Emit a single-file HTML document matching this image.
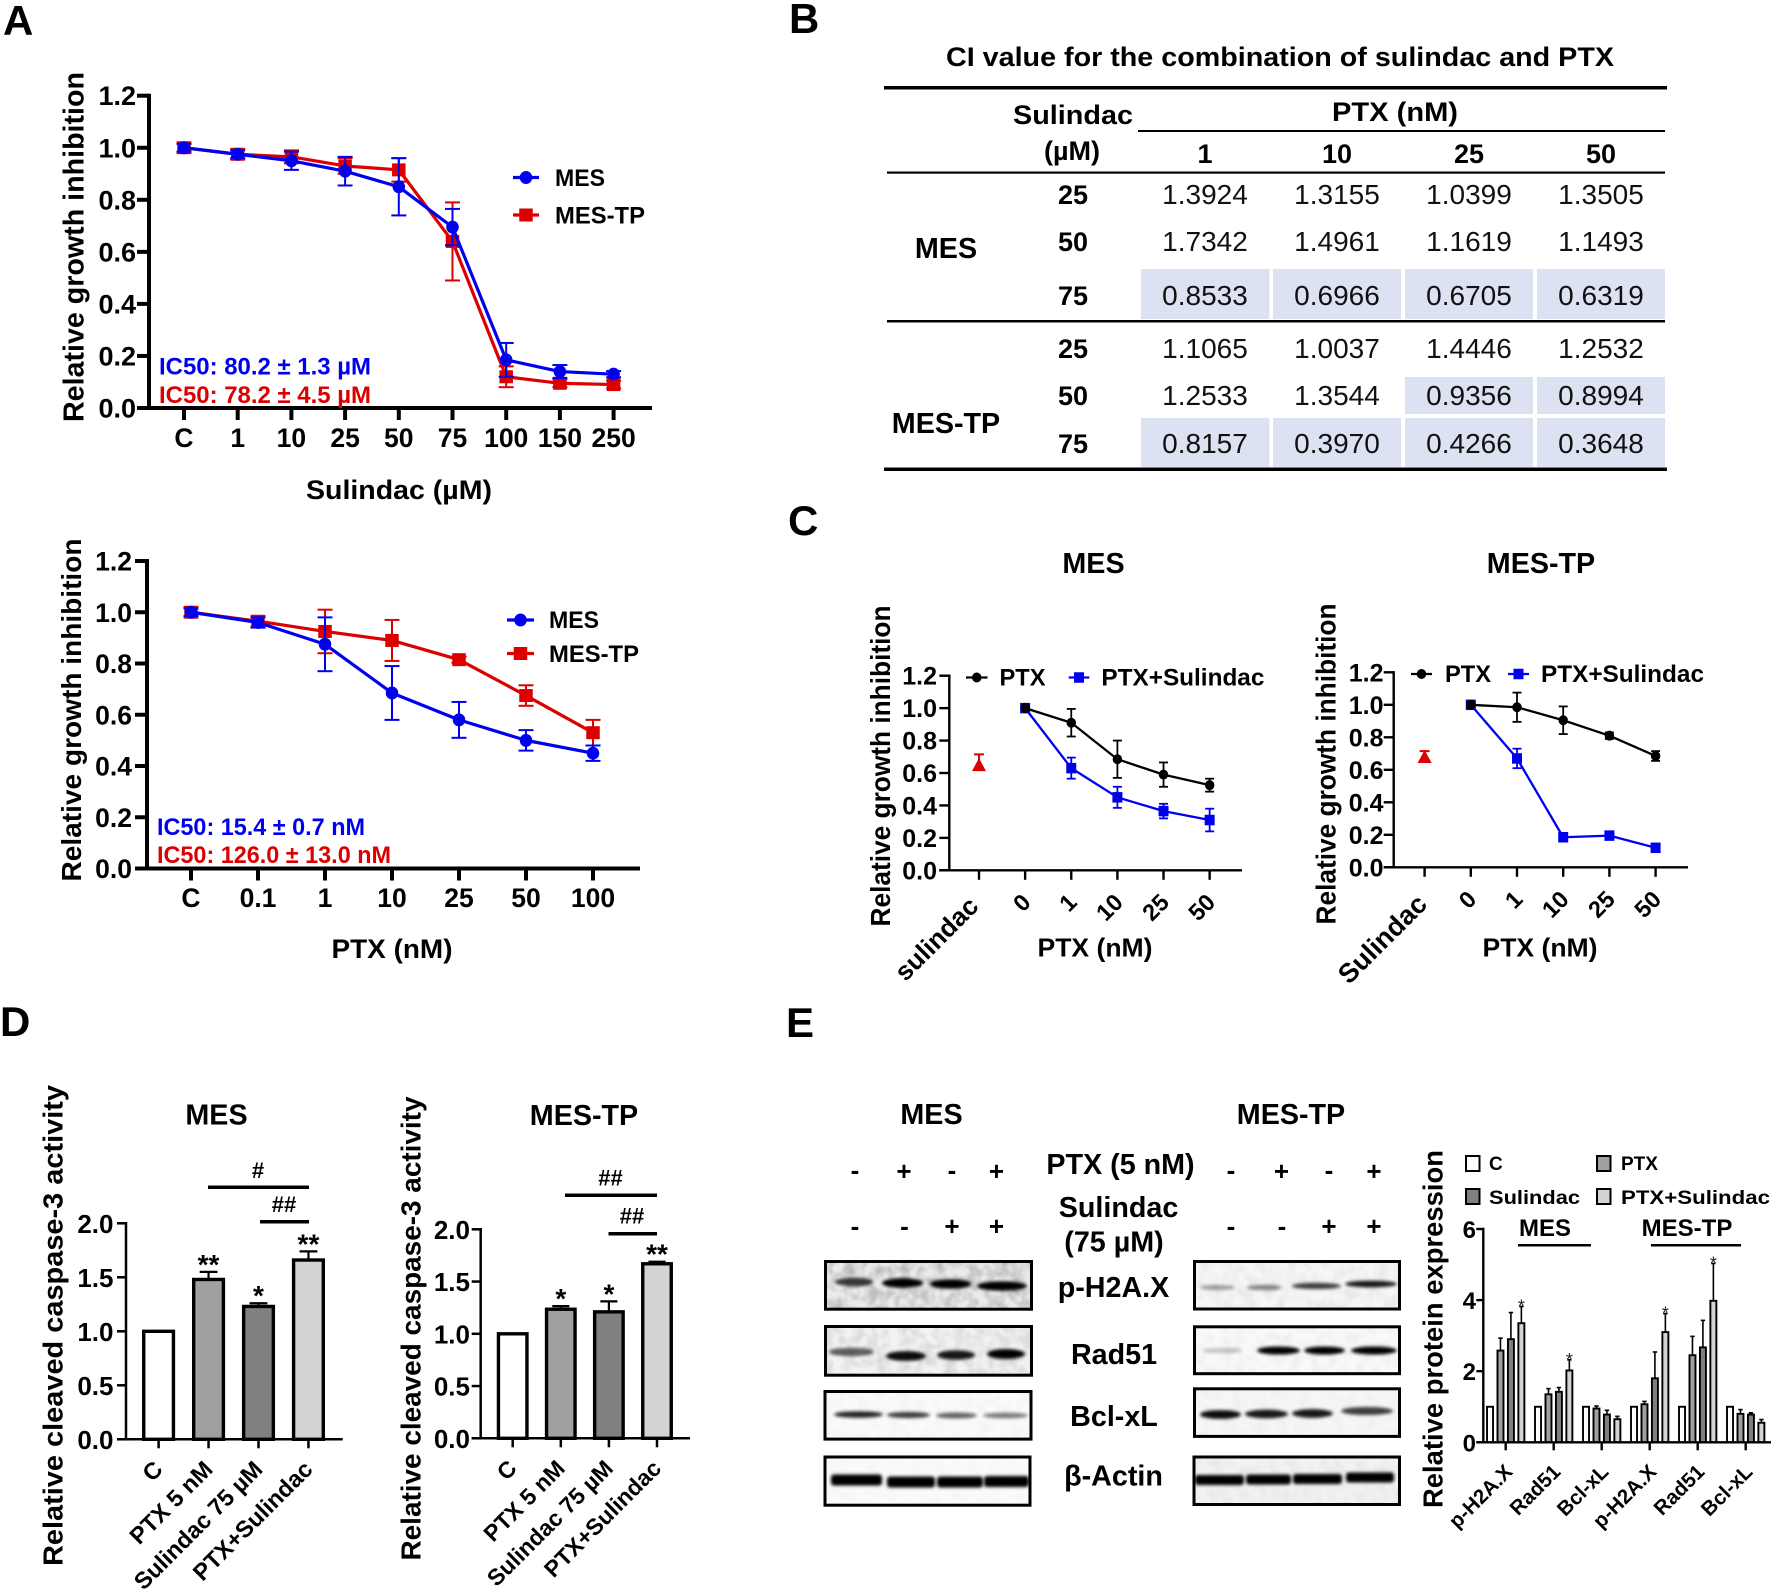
<!DOCTYPE html>
<html lang="en">
<head>
<meta charset="utf-8">
<title>Sulindac and PTX combination figure</title>
<style>
html,body{margin:0;padding:0;background:#fff;}
svg{display:block;font-family:"Liberation Sans",Arial,sans-serif;fill:#000;}
.b{font-weight:bold;}
.m{text-anchor:middle;}
.cell{font-size:28px;text-anchor:middle;fill:#111;}
.rowh{font-size:27px;font-weight:bold;text-anchor:middle;}
.group{font-size:28.7px;font-weight:bold;text-anchor:middle;}
.letter{font-size:42px;font-weight:bold;}
.shade{fill:#dde2f3;}
</style>
</head>
<body>
<svg id="figure" xmlns="http://www.w3.org/2000/svg" width="1772" height="1592" viewBox="0 0 1772 1592">
<defs>
<filter id="band-blur" x="-20%" y="-150%" width="140%" height="400%"><feGaussianBlur stdDeviation="1.6"/></filter>
<filter id="blot-noise" x="0" y="0" width="100%" height="100%"><feTurbulence type="fractalNoise" baseFrequency="0.09" numOctaves="2" seed="3"/><feColorMatrix values="0 0 0 0 0  0 0 0 0 0  0 0 0 0 0  1.6 0 0 0 -0.55"/></filter>
</defs>
<rect width="1772" height="1592" fill="#fff"/>

<text class="letter" x="3" y="35">A</text>
<text class="letter" x="789" y="33">B</text>
<text class="letter" x="788" y="535">C</text>
<text class="letter" x="0" y="1036">D</text>
<text class="letter" x="786" y="1037">E</text>

<g id="ci-table">
<text class="b m" x="1280" y="66" font-size="27" textLength="668" lengthAdjust="spacingAndGlyphs">CI value for the combination of sulindac and PTX</text>
<rect class="shade" x="1141" y="269" width="128.5" height="50"/>
<rect class="shade" x="1273" y="269" width="128" height="50"/>
<rect class="shade" x="1405" y="269" width="128" height="50"/>
<rect class="shade" x="1537" y="269" width="128" height="50"/>
<rect class="shade" x="1405" y="377" width="128" height="37"/>
<rect class="shade" x="1537" y="377" width="128" height="37"/>
<rect class="shade" x="1141" y="418" width="128.5" height="49"/>
<rect class="shade" x="1273" y="418" width="128" height="49"/>
<rect class="shade" x="1405" y="418" width="128" height="49"/>
<rect class="shade" x="1537" y="418" width="128" height="49"/>
<rect x="884" y="86" width="783" height="3.5"/>
<rect x="1138" y="130" width="527" height="2"/>
<rect x="887" y="171.5" width="778" height="2.2"/>
<rect x="887" y="320" width="778" height="2.5"/>
<rect x="884" y="467.5" width="783" height="3.5"/>

<text class="rowh" x="1073" y="124" textLength="120" lengthAdjust="spacingAndGlyphs">Sulindac</text>
<text class="rowh" x="1072" y="160">(µM)</text>
<text class="rowh" x="1395" y="121" textLength="126" lengthAdjust="spacingAndGlyphs">PTX (nM)</text>
<text class="rowh" x="1205" y="163">1</text>
<text class="rowh" x="1337" y="163">10</text>
<text class="rowh" x="1469" y="163">25</text>
<text class="rowh" x="1601" y="163">50</text>
<text class="group" x="946" y="258">MES</text>
<text class="group" x="946" y="433">MES-TP</text>

<g transform="translate(0,-1)">
<text class="rowh" x="1073" y="205">25</text>
<text class="rowh" x="1073" y="252">50</text>
<text class="rowh" x="1073" y="306">75</text>
<text class="rowh" x="1073" y="359">25</text>
<text class="rowh" x="1073" y="406">50</text>
<text class="rowh" x="1073" y="454">75</text>

<g>
<text class="cell" x="1205" y="205">1.3924</text><text class="cell" x="1337" y="205">1.3155</text><text class="cell" x="1469" y="205">1.0399</text><text class="cell" x="1601" y="205">1.3505</text>
<text class="cell" x="1205" y="252">1.7342</text><text class="cell" x="1337" y="252">1.4961</text><text class="cell" x="1469" y="252">1.1619</text><text class="cell" x="1601" y="252">1.1493</text>
<text class="cell" x="1205" y="306">0.8533</text><text class="cell" x="1337" y="306">0.6966</text><text class="cell" x="1469" y="306">0.6705</text><text class="cell" x="1601" y="306">0.6319</text>
<text class="cell" x="1205" y="359">1.1065</text><text class="cell" x="1337" y="359">1.0037</text><text class="cell" x="1469" y="359">1.4446</text><text class="cell" x="1601" y="359">1.2532</text>
<text class="cell" x="1205" y="406">1.2533</text><text class="cell" x="1337" y="406">1.3544</text><text class="cell" x="1469" y="406">0.9356</text><text class="cell" x="1601" y="406">0.8994</text>
<text class="cell" x="1205" y="454">0.8157</text><text class="cell" x="1337" y="454">0.3970</text><text class="cell" x="1469" y="454">0.4266</text><text class="cell" x="1601" y="454">0.3648</text>
</g>
</g>
</g>

<g id="a1"></g>
<g id="a2"></g>
<g id="c1"></g>
<g id="c2"></g>
<g id="d1"></g>
<g id="d2"></g>
<g id="e-blots"></g>
<g id="e-bars"></g>

<g>
<text class="b" x="159" y="374.5" font-size="24" fill="#0000f0" textLength="212" lengthAdjust="spacingAndGlyphs">IC50: 80.2 ± 1.3 µM</text>
<text class="b" x="159" y="403" font-size="24" fill="#dc0000" textLength="212" lengthAdjust="spacingAndGlyphs">IC50: 78.2 ± 4.5 µM</text>
<text class="b" x="157" y="835" font-size="24" fill="#0000f0" textLength="208" lengthAdjust="spacingAndGlyphs">IC50: 15.4 ± 0.7 nM</text>
<text class="b" x="157" y="863" font-size="24" fill="#dc0000" textLength="234" lengthAdjust="spacingAndGlyphs">IC50: 126.0 ± 13.0 nM</text>
</g>

<g>
<text class="group" x="1093.5" y="573">MES</text>
<text class="group" x="1541" y="573">MES-TP</text>
</g>

<g>
<text class="group" x="216.5" y="1124.5">MES</text>
<text class="group" x="584" y="1125">MES-TP</text>
<text class="b m" x="258" y="1178" font-size="22">#</text>
<rect x="208" y="1185.5" width="101" height="3.5"/>
<text class="b m" x="284" y="1212" font-size="22">##</text>
<rect x="260" y="1220" width="49" height="3.5"/>
<text class="b m" x="610.5" y="1185.5" font-size="22">##</text>
<rect x="565" y="1193.5" width="92" height="3.5"/>
<text class="b m" x="632" y="1223.5" font-size="22">##</text>
<rect x="608.5" y="1232" width="48.5" height="3.5"/>
</g>

<g>
<text class="group" x="931.5" y="1124">MES</text>
<text class="group" x="1291" y="1124">MES-TP</text>
<text class="group" x="1120.5" y="1174">PTX (5 nM)</text>
<text class="group" x="1118.5" y="1217">Sulindac</text>
<text class="group" x="1114" y="1251.5">(75 µM)</text>
<text class="group" x="1113.5" y="1297">p-H2A.X</text>
<text class="group" x="1114" y="1364">Rad51</text>
<text class="group" x="1114" y="1426">Bcl-xL</text>
<text class="group" x="1113.5" y="1485.5">β-Actin</text>

<g class="b m" font-size="26">
<text x="855" y="1179">-</text><text x="904" y="1180">+</text><text x="952" y="1179">-</text><text x="996.5" y="1180">+</text>
<text x="855" y="1235">-</text><text x="904.5" y="1235">-</text><text x="952" y="1235">+</text><text x="996.5" y="1235">+</text>
<text x="1231" y="1179">-</text><text x="1281.5" y="1180">+</text><text x="1329" y="1179">-</text><text x="1374" y="1180">+</text>
<text x="1231" y="1235">-</text><text x="1282" y="1235">-</text><text x="1329" y="1235">+</text><text x="1374" y="1235">+</text>
</g>

<rect x="1466" y="1156" width="13.5" height="15" fill="#fff" stroke="#000" stroke-width="2"/>
<text class="b" x="1489" y="1170" font-size="19">C</text>
<rect x="1597" y="1156" width="13.5" height="15" fill="#a0a0a0" stroke="#000" stroke-width="2"/>
<text class="b" x="1621" y="1170" font-size="19">PTX</text>
<rect x="1466" y="1189" width="13.5" height="15" fill="#808080" stroke="#000" stroke-width="2"/>
<text class="b" x="1489" y="1204" font-size="19" textLength="91" lengthAdjust="spacingAndGlyphs">Sulindac</text>
<rect x="1597" y="1189" width="13.5" height="15" fill="#d3d3d3" stroke="#000" stroke-width="2"/>
<text class="b" x="1621" y="1204" font-size="19" textLength="149" lengthAdjust="spacingAndGlyphs">PTX+Sulindac</text>

<text class="b m" x="1545" y="1236" font-size="24">MES</text>
<rect x="1518" y="1244" width="73" height="2.5"/>
<text class="b m" x="1687" y="1236" font-size="24">MES-TP</text>
<rect x="1651" y="1244" width="90" height="2.5"/>
</g>
</svg>

<script>
/* Panel A, sulindac dose response */
const a1Categories = ['C', '1', '10', '25', '50', '75', '100', '150', '250'];
const a1MesValues = [1.0, 0.975, 0.95, 0.91, 0.85, 0.695, 0.185, 0.14, 0.13];
const a1MesErrors = [0.015, 0.015, 0.035, 0.055, 0.11, 0.07, 0.065, 0.025, 0.012];
const a1TpValues = [1.0, 0.975, 0.965, 0.93, 0.915, 0.64, 0.12, 0.095, 0.09];
const a1TpErrors = [0.02, 0.02, 0.025, 0.03, 0.045, 0.15, 0.04, 0.015, 0.015];

/* Panel A, PTX dose response */
const a2Categories = ['C', '0.1', '1', '10', '25', '50', '100'];
const a2MesValues = [1.0, 0.96, 0.875, 0.685, 0.58, 0.5, 0.45];
const a2MesErrors = [0.015, 0.02, 0.105, 0.105, 0.07, 0.04, 0.03];
const a2TpValues = [1.0, 0.965, 0.925, 0.89, 0.815, 0.675, 0.53];
const a2TpErrors = [0.02, 0.02, 0.085, 0.08, 0.012, 0.04, 0.05];

const growthTicks = [0, 0.2, 0.4, 0.6, 0.8, 1.0, 1.2];

/* Panel C, combination */
const c1Categories = ['sulindac', '0', '1', '10', '25', '50'];
const c1PtxValues = [null, 1.0, 0.91, 0.685, 0.59, 0.525];
const c1PtxErrors = [null, 0.01, 0.085, 0.115, 0.075, 0.04];
const c1ComboValues = [null, 1.0, 0.63, 0.45, 0.365, 0.31];
const c1ComboErrors = [null, 0.02, 0.065, 0.065, 0.045, 0.07];
const c1SulindacValue = [0.655];
const c1SulindacError = [0.06];

const c2Categories = ['Sulindac', '0', '1', '10', '25', '50'];
const c2PtxValues = [null, 1.0, 0.985, 0.905, 0.81, 0.685];
const c2PtxErrors = [null, 0.015, 0.09, 0.085, 0.02, 0.03];
const c2ComboValues = [null, 1.0, 0.67, 0.185, 0.195, 0.12];
const c2ComboErrors = [null, 0.02, 0.06, 0.02, 0.02, 0.02];
const c2SulindacValue = [0.685];
const c2SulindacError = [0.03];

/* Panel D, caspase-3 */
const dCategories = ['C', 'PTX 5 nM', 'Sulindac 75 µM', 'PTX+Sulindac'];
const dTicks = [0, 0.5, 1.0, 1.5, 2.0];
const d1Values = [1.0, 1.48, 1.23, 1.66];
const d1Errors = [0, 0.07, 0.03, 0.08];
const d1Marks = ['', '**', '*', '**'];
const d2Values = [1.0, 1.235, 1.21, 1.67];
const d2Errors = [0, 0.03, 0.1, 0.02];
const d2Marks = ['', '*', '*', '**'];
const barFills = ['#ffffff', '#a0a0a0', '#808080', '#d3d3d3'];

/* Panel E, densitometry */
const eCategories = ['p-H2A.X', 'Rad51', 'Bcl-xL', 'p-H2A.X', 'Rad51', 'Bcl-xL'];
const eTicks = [0, 2, 4, 6];
const eControlValues = [1.0, 1.0, 1.0, 1.0, 1.0, 1.0];
const ePtxValues = [2.58, 1.35, 0.95, 1.07, 2.45, 0.8];
const ePtxErrors = [0.35, 0.16, 0.07, 0.08, 0.53, 0.12];
const eSulindacValues = [2.9, 1.42, 0.78, 1.8, 2.67, 0.78];
const eSulindacErrors = [0.75, 0.12, 0.12, 0.74, 0.76, 0.05];
const eComboValues = [3.35, 2.02, 0.65, 3.1, 3.98, 0.55];
const eComboErrors = [0.47, 0.3, 0.08, 0.52, 1.05, 0.09];
const eComboMarks = ['*', '*', '', '*', '*', ''];

const NS = 'http://www.w3.org/2000/svg';
const BLUE = '#0000f0';
const RED = '#dc0000';

function mk(parent, tag, attrs, name) {
  const el = document.createElementNS(NS, tag);
  for (const k in attrs) el.setAttribute(k, attrs[k]);
  
  
  parent.appendChild(el);
  return el;
}
function label(parent, x, y, str, o, name) {
  const a = { x: x, y: y, 'font-size': o.size, 'font-weight': o.weight || 'bold', 'text-anchor': o.anchor || 'middle', fill: o.fill || '#000' };
  if (o.rot !== undefined) a.transform = 'rotate(' + o.rot + ' ' + x + ' ' + y + ')';
  if (o.len) { a.textLength = o.len; a.lengthAdjust = 'spacingAndGlyphs'; }
  const el = mk(parent, 'text', a, name);
  el.textContent = str;
  return el;
}
function linearAxis(d0, d1, r0, r1) { return v => r0 + (v - d0) / (d1 - d0) * (r1 - r0); }
function categoryAxis(first, step) { return i => first + i * step; }
function line(parent, x1, y1, x2, y2, color, w, name) {
  return mk(parent, 'line', { x1: x1, y1: y1, x2: x2, y2: y2, stroke: color, 'stroke-width': w }, name);
}

function drawAxes(g, x, y, cats, ticks, digits, c) {
  line(g, c.axisX, y(ticks[ticks.length - 1]) - c.sw / 2, c.axisX, y(0) + c.sw / 2, '#000', c.sw, 'y-axis');
  line(g, c.axisX - c.tickLen, y(0), c.xEnd, y(0), '#000', c.sw, 'x-axis');
  ticks.forEach(t => {
    line(g, c.axisX - c.tickLen, y(t), c.axisX, y(t), '#000', c.sw, 'y-tick');
    label(g, c.yLabelX, y(t) + c.yLabelDy, t.toFixed(digits), { size: c.yFont, anchor: 'end' }, 'y-tick-label');
  });
  cats.forEach((cat, i) => {
    line(g, x(i), y(0), x(i), y(0) + c.xTickLen, '#000', c.sw, 'x-tick');
    if (c.xRot) {
      const first = i === 0 && c.firstFont;
      const lx = x(i) + (first ? c.firstDx : c.xLabelDx);
      const ly = first ? c.xLabelY + c.firstDy : c.xLabelY;
      label(g, lx, ly, cat, { size: first ? c.firstFont : c.xFont, anchor: 'end', rot: c.xRot, weight: c.xWeight }, 'x-tick-label');
    } else {
      label(g, x(i), c.xLabelY, cat, { size: c.xFont }, 'x-tick-label');
    }
  });
}

function drawSeries(g, x, y, vals, errs, color, s, shape, name) {
  const pts = [];
  vals.forEach((v, i) => { if (v !== null) pts.push(x(i) + ',' + y(v)); });
  vals.forEach((v, i) => {
    if (v === null) return;
    line(g, x(i), y(v - errs[i]), x(i), y(v + errs[i]), color, s.err, name + '-error-bar');
    line(g, x(i) - s.cap, y(v + errs[i]), x(i) + s.cap, y(v + errs[i]), color, s.err, name + '-error-cap');
    line(g, x(i) - s.cap, y(v - errs[i]), x(i) + s.cap, y(v - errs[i]), color, s.err, name + '-error-cap');
  });
  mk(g, 'polyline', { points: pts.join(' '), fill: 'none', stroke: color, 'stroke-width': s.lw, 'stroke-linejoin': 'round' }, name + '-line');
  vals.forEach((v, i) => {
    if (v === null) return;
    drawMarker(g, x(i), y(v), color, s, shape, name + '-point');
  });
}
function drawMarker(g, cx, cy, color, s, shape, name) {
  if (shape === 'circle') {
    mk(g, 'ellipse', { cx: cx, cy: cy, rx: s.mw / 2, ry: s.mh / 2, fill: color }, name);
  } else {
    mk(g, 'rect', { x: cx - s.sq / 2, y: cy - s.sqh / 2, width: s.sq, height: s.sqh, fill: color }, name);
  }
}
function legendEntry(g, x1, x2, y, color, s, shape, str, tx, ty, size, len, name) {
  line(g, x1, y, x2, y, color, s.lw, name + '-line');
  drawMarker(g, (x1 + x2) / 2, y, color, s, shape, name + '-marker');
  label(g, tx, ty, str, { size: size, anchor: 'start', len: len }, name + '-label');
}
function drawTitleY(g, x, cy, str, size, len) {
  label(g, x, cy, str, { size: size, rot: -90, len: len }, 'y-axis-title');
}

/* ---------- Panel A ---------- */
const aStyle = { err: 2, cap: 7.5, lw: 3.2, mw: 12.5, mh: 13, sq: 13.5, sqh: 13 };
(function () {
  const g = document.getElementById('a1');
  const x = categoryAxis(184, 53.7);
  const y = linearAxis(0, 1.2, 408, 95.7);
  drawAxes(g, x, y, a1Categories, growthTicks, 1, { axisX: 149, xEnd: 652, sw: 4, tickLen: 12, xTickLen: 12, yLabelX: 136, yLabelDy: 9.5, yFont: 27, xFont: 26.5, xLabelY: 447 });
  drawSeries(g, x, y, a1TpValues, a1TpErrors, RED, aStyle, 'square', 'series-mes-tp');
  drawSeries(g, x, y, a1MesValues, a1MesErrors, BLUE, aStyle, 'circle', 'series-mes');
  drawTitleY(g, 83.5, 247, 'Relative growth inhibition', 28.5, 350);
  label(g, 399, 499, 'Sulindac (µM)', { size: 26.5, len: 186 }, 'x-axis-title');
  legendEntry(g, 513, 539, 177.5, BLUE, aStyle, 'circle', 'MES', 555, 186, 24, 50, 'legend-mes');
  legendEntry(g, 513, 539, 215, RED, aStyle, 'square', 'MES-TP', 555, 223.5, 24, 90, 'legend-mes-tp');
})();
(function () {
  const g = document.getElementById('a2');
  const x = categoryAxis(191, 67);
  const y = linearAxis(0, 1.2, 868.5, 561);
  drawAxes(g, x, y, a2Categories, growthTicks, 1, { axisX: 147, xEnd: 640, sw: 4, tickLen: 12, xTickLen: 12, yLabelX: 132, yLabelDy: 9.5, yFont: 26.5, xFont: 26.5, xLabelY: 907 });
  drawSeries(g, x, y, a2TpValues, a2TpErrors, RED, aStyle, 'square', 'series-mes-tp');
  drawSeries(g, x, y, a2MesValues, a2MesErrors, BLUE, aStyle, 'circle', 'series-mes');
  drawTitleY(g, 81, 710, 'Relative growth inhibition', 28, 343);
  label(g, 392, 958, 'PTX (nM)', { size: 26.5, len: 121 }, 'x-axis-title');
  legendEntry(g, 507, 534, 620, BLUE, aStyle, 'circle', 'MES', 549, 628, 24, 50, 'legend-mes');
  legendEntry(g, 507, 534, 653.5, RED, aStyle, 'square', 'MES-TP', 549, 662, 24, 90, 'legend-mes-tp');
})();

/* ---------- Panel C ---------- */
const cStyle = { err: 1.8, cap: 4.5, lw: 2.3, mw: 9.5, mh: 10, sq: 10, sqh: 10.5 };
function drawCombination(id, c, cats, ptx, ptxErr, combo, comboErr, solo, soloErr) {
  const g = document.getElementById(id);
  const x = categoryAxis(c.first, c.step);
  const y = linearAxis(0, 1.2, c.bottom, c.top);
  drawAxes(g, x, y, cats, growthTicks, 1, { axisX: c.axisX, xEnd: c.xEnd, sw: 2.4, tickLen: 10, xTickLen: 9.5, yLabelX: c.yLabelX, yLabelDy: 9, yFont: 25, xFont: 23.5, xLabelY: c.bottom + 33.5, xLabelDx: 7, xRot: -45, firstFont: c.firstFont, firstDx: c.firstDx, firstDy: c.firstDy });
  drawSeries(g, x, y, combo, comboErr, '#0000f0', cStyle, 'square', 'series-ptx-sulindac');
  drawSeries(g, x, y, ptx, ptxErr, '#000', cStyle, 'circle', 'series-ptx');
  const tipY = y(solo[0]) - 6;
  line(g, x(0), y(solo[0]), x(0), y(solo[0] + soloErr[0]), RED, 2, 'series-sulindac-error-bar');
  line(g, x(0) - 5, y(solo[0] + soloErr[0]), x(0) + 5, y(solo[0] + soloErr[0]), RED, 2, 'series-sulindac-error-cap');
  mk(g, 'polygon', { points: x(0) + ',' + tipY + ' ' + (x(0) - 7) + ',' + (tipY + 13) + ' ' + (x(0) + 7) + ',' + (tipY + 13), fill: RED }, 'series-sulindac-point');
  drawTitleY(g, c.titleX, c.titleCy, 'Relative growth inhibition', 28, 321);
  label(g, c.xTitleX, 956.5, 'PTX (nM)', { size: 26, len: 115 }, 'x-axis-title');
  legendEntry(g, c.l1a, c.l1b, c.legendY, '#000', cStyle, 'circle', 'PTX', c.t1, c.legendY + 8, 24, 46, 'legend-ptx');
  legendEntry(g, c.l2a, c.l2b, c.legendY, '#0000f0', cStyle, 'square', 'PTX+Sulindac', c.t2, c.legendY + 8, 24, 163, 'legend-ptx-sulindac');
}
drawCombination('c1', { first: 979, step: 46.13, top: 675.7, bottom: 870.3, axisX: 949.3, xEnd: 1242, yLabelX: 937, titleX: 890, titleCy: 766, xTitleX: 1095, l1a: 966, l1b: 987.5, t1: 999.5, l2a: 1068.7, l2b: 1089.3, t2: 1101.4, legendY: 677.5, firstFont: 26, firstDx: 1, firstDy: 4 }, c1Categories, c1PtxValues, c1PtxErrors, c1ComboValues, c1ComboErrors, c1SulindacValue, c1SulindacError);
drawCombination('c2', { first: 1424.6, step: 46.2, top: 672.3, bottom: 867.3, axisX: 1393.7, xEnd: 1688, yLabelX: 1383.5, titleX: 1335.5, titleCy: 764, xTitleX: 1540, l1a: 1411, l1b: 1432, t1: 1445, l2a: 1508, l2b: 1529, t2: 1541, legendY: 674, firstFont: 27, firstDx: 4, firstDy: 5 }, c2Categories, c2PtxValues, c2PtxErrors, c2ComboValues, c2ComboErrors, c2SulindacValue, c2SulindacError);

/* ---------- Panel D ---------- */
function drawCaspase(id, c, vals, errs, marks) {
  const g = document.getElementById(id);
  const x = categoryAxis(c.first, c.step);
  const y = linearAxis(0, 2, c.bottom, c.top);
  vals.forEach((v, i) => {
    if (errs[i] > 0) {
      line(g, x(i), y(v), x(i), y(v + errs[i]), '#000', 2.2, 'bar-error');
      line(g, x(i) - c.bw * 0.3, y(v + errs[i]), x(i) + c.bw * 0.3, y(v + errs[i]), '#000', 2.2, 'bar-error-cap');
    }
    mk(g, 'rect', { x: x(i) - c.bw / 2, y: y(v), width: c.bw, height: y(0) - y(v), fill: barFills[i], stroke: '#000', 'stroke-width': 3.4 }, 'bar-' + dCategories[i].toLowerCase().replace(/[^a-z0-9]+/g, '-'));
    if (marks[i]) label(g, x(i), y(v + errs[i]) + 2, marks[i], { size: 28 }, 'significance-mark');
  });
  drawAxes(g, x, y, dCategories, dTicks, 1, { axisX: c.axisX, xEnd: c.xEnd, sw: 2.5, tickLen: 9, xTickLen: 9, yLabelX: c.yLabelX, yLabelDy: 9.5, yFont: 26, xFont: c.xFont, xLabelY: c.bottom + 31.5, xLabelDx: 5.5, xRot: -45 });
  drawTitleY(g, c.titleX, c.titleCy, 'Relative cleaved caspase-3 activity', 28, c.titleLen);
}
drawCaspase('d1', { first: 158.6, step: 49.95, bw: 29.7, top: 1223.3, bottom: 1439.3, axisX: 126, xEnd: 342.7, yLabelX: 113.5, titleX: 62.7, titleCy: 1325.5, titleLen: 481, xFont: 23.5 }, d1Values, d1Errors, d1Marks);
drawCaspase('d2', { first: 512.7, step: 48.1, bw: 28.5, top: 1229.3, bottom: 1438.3, axisX: 480.7, xEnd: 690, yLabelX: 470, titleX: 420.5, titleCy: 1328.5, titleLen: 464, xFont: 23 }, d2Values, d2Errors, d2Marks);

/* ---------- Panel E, blots: band = [left, right, darkness, centre-y] ---------- */
const blotFrames = [
  { name: 'blot-mes-p-h2ax', x: 825.5, y: 1261.5, w: 206, h: 47.7, bg: '#eaeaea', noise: 0.28, th: 8.5, bands: [[836, 872, 0.75, 1282], [883, 922, 1, 1283], [931, 970, 1, 1284], [978, 1026, 1, 1286]] },
  { name: 'blot-mes-rad51', x: 825.5, y: 1326.5, w: 206, h: 48.7, bg: '#f2f2f2', noise: 0.14, th: 9, bands: [[830, 873, 0.6, 1352], [887, 925, 0.95, 1356], [938, 974, 0.9, 1355], [988, 1024, 1, 1354]] },
  { name: 'blot-mes-bcl-xl', x: 825, y: 1391.5, w: 206, h: 47.6, bg: '#fafafa', noise: 0.03, th: 6, bands: [[835, 882, 0.85, 1414.5], [888, 929, 0.75, 1415], [937, 976, 0.6, 1415.5], [984, 1027, 0.5, 1415.5]] },
  { name: 'blot-mes-beta-actin', x: 825, y: 1457, w: 205, h: 48.2, bg: '#fafafa', noise: 0.02, th: 11, solid: true, bands: [[831, 882, 1, 1480], [887, 935, 1, 1482], [937, 983, 1, 1482], [984, 1029, 1, 1481.5]] },
  { name: 'blot-tp-p-h2ax', x: 1194.5, y: 1261.5, w: 205, h: 47.5, bg: '#f6f6f6', noise: 0.07, th: 6, bands: [[1201, 1234, 0.35, 1287.5], [1248, 1281, 0.45, 1287.5], [1293, 1340, 0.75, 1286], [1346, 1396, 0.9, 1284]] },
  { name: 'blot-tp-rad51', x: 1194.5, y: 1326.8, w: 205, h: 46.9, bg: '#f9f9f9', noise: 0.05, th: 7, bands: [[1203, 1242, 0.2, 1350.5], [1258, 1299, 1, 1350.5], [1305, 1344, 1, 1350.5], [1352, 1396, 1, 1350.5]] },
  { name: 'blot-tp-bcl-xl', x: 1194.5, y: 1388.8, w: 205, h: 47.6, bg: '#f6f6f6', noise: 0.03, th: 8, bands: [[1201, 1240, 0.95, 1414.5], [1246, 1287, 0.9, 1414], [1293, 1332, 0.9, 1413.5], [1342, 1392, 0.75, 1411]] },
  { name: 'blot-tp-beta-actin', x: 1194, y: 1457, w: 205.5, h: 47.5, bg: '#f2f2f2', noise: 0.05, th: 10, solid: true, bands: [[1195, 1244, 1, 1480], [1246, 1291, 1, 1479.5], [1293, 1342, 1, 1479], [1346, 1394, 1, 1477.5]] }
];
(function () {
  const g = document.getElementById('e-blots');
  blotFrames.forEach(b => {
    const f = mk(g, 'g', {}, b.name);
    mk(f, 'rect', { x: b.x, y: b.y, width: b.w, height: b.h, fill: b.bg }, 'blot-background');
    mk(f, 'rect', { x: b.x, y: b.y, width: b.w, height: b.h, fill: '#000', filter: 'url(#blot-noise)', opacity: b.noise }, 'blot-grain');
    b.bands.forEach(bd => {
      const h = b.th * (0.55 + 0.45 * bd[2]);
      if (b.solid) {
        mk(f, 'rect', { x: bd[0], y: bd[3] - h / 2, width: bd[1] - bd[0], height: h, rx: 3, fill: '#000', filter: 'url(#band-blur)' }, 'blot-band');
      } else {
        mk(f, 'ellipse', { cx: (bd[0] + bd[1]) / 2, cy: bd[3], rx: (bd[1] - bd[0]) / 2 + 1, ry: h / 2 + 0.5, fill: '#000', opacity: bd[2], filter: 'url(#band-blur)' }, 'blot-band');
      }
    });
    mk(f, 'rect', { x: b.x, y: b.y, width: b.w, height: b.h, fill: 'none', stroke: '#000', 'stroke-width': 3 }, 'blot-frame');
  });
})();

/* ---------- Panel E, bars ---------- */
(function () {
  const g = document.getElementById('e-bars');
  const x = categoryAxis(1505.7, 48);
  const y = linearAxis(0, 6, 1442.3, 1229);
  const treatments = [
    { name: 'control', vals: eControlValues, errs: null, fill: barFills[0] },
    { name: 'ptx', vals: ePtxValues, errs: ePtxErrors, fill: barFills[1] },
    { name: 'sulindac', vals: eSulindacValues, errs: eSulindacErrors, fill: barFills[2] },
    { name: 'combination', vals: eComboValues, errs: eComboErrors, fill: barFills[3] }
  ];
  treatments.forEach((t, j) => {
    t.vals.forEach((v, i) => {
      const cx = x(i) + (j - 1.5) * 10.45;
      if (t.errs) {
        line(g, cx, y(v), cx, y(v + t.errs[i]), '#000', 1.6, 'bar-error');
        line(g, cx - 2.2, y(v + t.errs[i]), cx + 2.2, y(v + t.errs[i]), '#000', 1.6, 'bar-error-cap');
      }
      mk(g, 'rect', { x: cx - 3, y: y(v), width: 6, height: y(0) - y(v), fill: t.fill, stroke: '#000', 'stroke-width': 1.9 }, 'bar-' + t.name);
      if (j === 3 && eComboMarks[i]) label(g, cx, y(v + t.errs[i]) + 6, eComboMarks[i], { size: 18, weight: 'normal', fill: '#222' }, 'significance-mark');
    });
  });
  drawAxes(g, x, y, eCategories, eTicks, 0, { axisX: 1483.3, xEnd: 1771, sw: 2.4, tickLen: 7, xTickLen: 8, yLabelX: 1476, yLabelDy: 9, yFont: 24, xFont: 20.5, xLabelY: 1473, xLabelDx: 8, xRot: -45 });
  drawTitleY(g, 1442.7, 1329, 'Relative protein expression', 28, 358);
})();
</script>
</body>
</html>
